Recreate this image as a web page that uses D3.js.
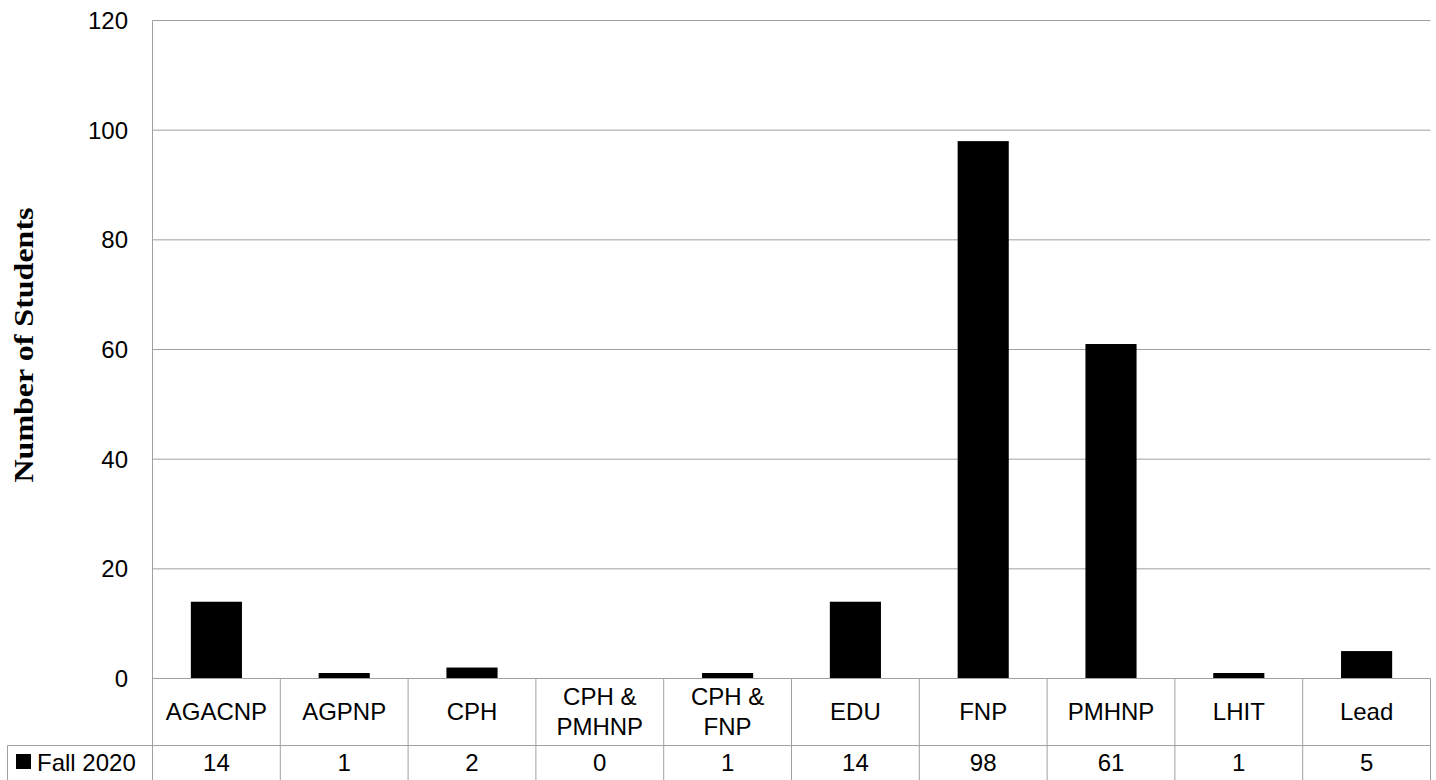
<!DOCTYPE html>
<html>
<head>
<meta charset="utf-8">
<script src="https://cdn.jsdelivr.net/npm/d3@7"></script>
<style>
  body { margin: 0; background: #fff; }
  text { font-family: "Liberation Sans", Arial, sans-serif; }
</style>
</head>
<body>
<div id="chart"></div>
<script>
const categories = ['AGACNP', 'AGPNP', 'CPH', 'CPH & PMHNP', 'CPH & FNP', 'EDU', 'FNP', 'PMHNP', 'LHIT', 'Lead'];
const catLines = [['AGACNP'], ['AGPNP'], ['CPH'], ['CPH &', 'PMHNP'], ['CPH &', 'FNP'], ['EDU'], ['FNP'], ['PMHNP'], ['LHIT'], ['Lead']];
const fall2020 = [14, 1, 2, 0, 1, 14, 98, 61, 1, 5];
const seriesName = 'Fall 2020';
const yTicks = [0, 20, 40, 60, 80, 100, 120];

const W = 1436, H = 780;
const plotLeft = 152.5, plotRight = 1430.5, plotTop = 20.5, zeroY = 678.5;
const row1Bottom = 745.5, tableBottom = 780, legendLeft = 7.5;
const gridColor = '#a0a0a0';
const fs = 24;

const svg = d3.select('#chart').append('svg')
  .attr('width', W).attr('height', H);

const x = d3.scaleBand().domain(categories).range([plotLeft, plotRight]).paddingInner(0.6).paddingOuter(0.3);
const xCell = d3.scaleBand().domain(categories).range([plotLeft, plotRight]);
const y = d3.scaleLinear().domain([0, 120]).range([zeroY, plotTop]);

// gridlines
svg.append('g').selectAll('line').data(yTicks.filter(d => d > 0)).enter().append('line')
  .attr('x1', plotLeft).attr('x2', plotRight)
  .attr('y1', d => y(d)).attr('y2', d => y(d))
  .attr('stroke', gridColor).attr('stroke-width', 1);

// y axis line
svg.append('line').attr('x1', plotLeft).attr('x2', plotLeft).attr('y1', plotTop).attr('y2', tableBottom)
  .attr('stroke', gridColor);

// y tick labels
svg.append('g').selectAll('text').data(yTicks).enter().append('text')
  .attr('x', 128).attr('y', d => y(d)).attr('dy', '0.35em')
  .attr('text-anchor', 'end').attr('font-size', fs).attr('fill', '#000')
  .text(d => d);

// y title
svg.append('text')
  .attr('transform', 'translate(24,345) rotate(-90)')
  .attr('text-anchor', 'middle').attr('dy', '0.35em')
  .style('font-family', '"Liberation Serif", "DejaVu Serif", serif')
  .attr('font-weight', 'bold').attr('font-size', 27)
  .attr('textLength', 275).attr('lengthAdjust', 'spacingAndGlyphs')
  .text('Number of Students');

// bars
svg.append('g').selectAll('rect').data(fall2020).enter().append('rect')
  .attr('x', (d, i) => x(categories[i]))
  .attr('width', x.bandwidth())
  .attr('y', d => y(d))
  .attr('height', d => y(0) - y(d))
  .attr('fill', '#000');

// data table
const table = svg.append('g');
table.append('line').attr('x1', plotLeft).attr('x2', plotRight).attr('y1', zeroY).attr('y2', zeroY).attr('stroke', gridColor);
table.append('line').attr('x1', legendLeft).attr('x2', plotRight).attr('y1', row1Bottom).attr('y2', row1Bottom).attr('stroke', gridColor);
table.append('line').attr('x1', legendLeft).attr('x2', legendLeft).attr('y1', row1Bottom).attr('y2', tableBottom).attr('stroke', gridColor);
table.selectAll('.vline').data(categories).enter().append('line')
  .attr('class', 'vline')
  .attr('x1', d => xCell(d) + xCell.bandwidth()).attr('x2', d => xCell(d) + xCell.bandwidth())
  .attr('y1', zeroY).attr('y2', tableBottom).attr('stroke', gridColor);

// category labels
const midRow1 = (zeroY + row1Bottom) / 2;
table.selectAll('.cat').data(categories).enter().append('text')
  .attr('class', 'cat')
  .attr('text-anchor', 'middle').attr('font-size', fs)
  .each(function(d, i) {
    const lines = catLines[i];
    const lh = 30;
    const y0 = midRow1 - (lines.length - 1) * lh / 2;
    d3.select(this).selectAll('tspan').data(lines).enter().append('tspan')
      .attr('x', xCell(d) + xCell.bandwidth() / 2)
      .attr('y', (l, j) => y0 + j * lh)
      .attr('dy', '0.35em')
      .text(l => l);
  });

// values row
const midRow2 = 763;
table.selectAll('.val').data(fall2020).enter().append('text')
  .attr('class', 'val')
  .attr('x', (d, i) => xCell(categories[i]) + xCell.bandwidth() / 2)
  .attr('y', midRow2).attr('dy', '0.35em')
  .attr('text-anchor', 'middle').attr('font-size', fs)
  .text(d => d);

// legend key
table.append('rect').attr('x', 16).attr('y', 754).attr('width', 15).attr('height', 15).attr('fill', '#000');
table.append('text').attr('x', 37).attr('y', midRow2).attr('dy', '0.35em')
  .attr('font-size', fs).text(seriesName);
</script>
</body>
</html>
